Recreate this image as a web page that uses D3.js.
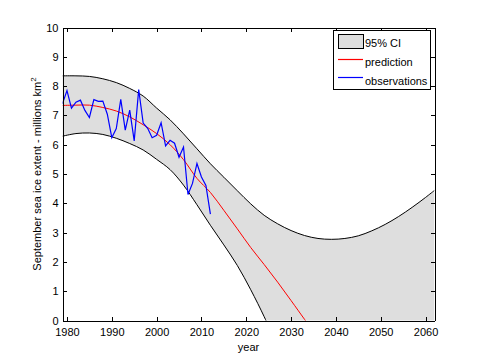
<!DOCTYPE html>
<html><head><meta charset="utf-8">
<script src="https://cdn.jsdelivr.net/npm/d3@7/dist/d3.min.js"></script>
<style>
body{margin:0;background:#fff;}
text{font-family:"Liberation Sans",Arial,sans-serif;font-size:11px;fill:#000;}
</style></head><body>
<svg id="c" width="480" height="360"></svg>
<script>
// ---- data ----
const obsYears = d3.range(1979, 2013);
const obsValues = [7.40,7.85,7.25,7.45,7.52,7.17,6.93,7.54,7.48,7.49,7.04,6.24,6.55,7.55,6.50,7.18,6.13,7.88,6.74,6.56,6.24,6.32,6.75,5.96,6.15,6.05,5.57,5.92,4.30,4.68,5.36,4.90,4.61,3.63];

const ciYears = [1979,1982,1985,1988,1991,1994,1997,2000,2003,2006,2009,2012,2015,2018,2021,2024,2027,2030,2033,2036,2039,2042,2045,2048,2051,2054,2057,2060,2062];
const ciUpper = [8.35,8.35,8.33,8.25,8.12,7.92,7.66,7.25,6.85,6.37,5.86,5.35,4.89,4.43,3.98,3.59,3.30,3.07,2.90,2.80,2.77,2.80,2.89,3.06,3.28,3.55,3.86,4.20,4.44];

const lowerYears = [1979,1982,1985,1988,1991,1994,1997,2000,2003,2006,2009,2012,2015,2018,2021,2024,2026];
const ciLower = [6.29,6.38,6.40,6.35,6.22,6.04,5.82,5.50,5.15,4.62,3.95,3.25,2.58,1.88,1.05,0.13,-0.55];

const predYears = [1979,1982,1985,1988,1991,1994,1997,2000,2003,2006,2009,2012,2015,2018,2021,2024,2027,2030,2033,2035];
const predValues = [7.34,7.35,7.35,7.27,7.15,6.95,6.68,6.38,6.00,5.49,4.85,4.37,3.76,3.13,2.49,1.91,1.31,0.68,0.04,-0.38];

const xTicks = [1980,1990,2000,2010,2020,2030,2040,2050,2060];
const yTicks = [0,1,2,3,4,5,6,7,8,9,10];
const legendLabels = ["95% CI","prediction","observations"];

// ---- layout ----
const L = 62.5, R = 434.5, T = 27.5, B = 320.5;
const svg = d3.select("#c");
const x = d3.scaleLinear().domain([1979, 2062]).range([L, R]);
const y = d3.scaleLinear().domain([0, 10]).range([B, T]);

svg.append("defs").append("clipPath").attr("id","clip")
  .append("rect").attr("x",L).attr("y",T).attr("width",R-L).attr("height",B-T);
const plot = svg.append("g").attr("clip-path","url(#clip)");

const line = d3.line().x(d=>x(d[0])).y(d=>y(d[1])).curve(d3.curveCatmullRom);
const upperPts = ciYears.map((t,i)=>[t,ciUpper[i]]);
const lowerPts = lowerYears.map((t,i)=>[t,ciLower[i]]);
const predPts = predYears.map((t,i)=>[t,predValues[i]]);
const obsPts = obsYears.map((t,i)=>[t,obsValues[i]]);

const upperPath = line(upperPts);
const lowerRev = line(lowerPts.slice().reverse());
const bandD = upperPath + "L" + x(2062) + "," + y(-1) + "L" + x(lowerYears[lowerYears.length-1]) + "," + y(-1)
  + "L" + lowerRev.slice(1) + "Z";
plot.append("path").attr("d", bandD).attr("fill","#dedede").attr("stroke","none");

plot.append("path").attr("d", upperPath).attr("fill","none").attr("stroke","#000").attr("stroke-width",1);
plot.append("path").attr("d", line(lowerPts)).attr("fill","none").attr("stroke","#000").attr("stroke-width",1);
plot.append("path").attr("d", line(predPts)).attr("fill","none").attr("stroke","#ff0000").attr("stroke-width",1);
plot.append("path").attr("d", d3.line().x(d=>x(d[0])).y(d=>y(d[1]))(obsPts))
  .attr("fill","none").attr("stroke","#0000ff").attr("stroke-width",1.2);

// ---- axes ----
svg.append("g").attr("transform",`translate(0,${B})`)
  .call(d3.axisBottom(x).tickValues(xTicks).tickFormat(d3.format("d")).tickSizeInner(-4).tickSizeOuter(0).tickPadding(8))
  .attr("font-size",null).attr("font-family",null);
svg.append("g").attr("transform",`translate(0,${T})`)
  .call(d3.axisTop(x).tickValues(xTicks).tickFormat("").tickSizeInner(-4).tickSizeOuter(0));
svg.append("g").attr("transform",`translate(${L},0)`)
  .call(d3.axisLeft(y).tickValues(yTicks).tickFormat(d3.format("d")).tickSizeInner(-4).tickSizeOuter(0).tickPadding(4))
  .attr("font-size",null).attr("font-family",null);
svg.append("g").attr("transform",`translate(${R},0)`)
  .call(d3.axisRight(y).tickValues(yTicks).tickFormat("").tickSizeInner(-4).tickSizeOuter(0));
svg.selectAll(".tick line").attr("stroke","#000").attr("shape-rendering","crispEdges");
svg.selectAll(".domain").attr("stroke","#000").attr("shape-rendering","crispEdges");

// axis labels
svg.append("text").attr("x", (L+R)/2).attr("y", 351).attr("text-anchor","middle").text("year");
const yl = svg.append("text").attr("transform",`translate(41,${(T+B)/2}) rotate(-90)`).attr("text-anchor","middle");
yl.append("tspan").text("September sea ice extent - millions km");
yl.append("tspan").attr("dy",-5).attr("font-size","8px").text("2");

// ---- legend ----
const lg = svg.append("g");
lg.append("rect").attr("x",333.5).attr("y",30.5).attr("width",97).attr("height",59).attr("fill","#fff").attr("stroke","#000").attr("shape-rendering","crispEdges");
lg.append("rect").attr("x",338.5).attr("y",34.5).attr("width",25).attr("height",14).attr("fill","#dedede").attr("stroke","#000").attr("shape-rendering","crispEdges");
lg.append("rect").attr("x",338).attr("y",58.9).attr("width",25).attr("height",1.2).attr("fill","#ff0000");
lg.append("rect").attr("x",338).attr("y",76.9).attr("width",25).attr("height",1.2).attr("fill","#0000ff");
const lgY = [46.5, 65.5, 84.5];
legendLabels.forEach((s,i)=>lg.append("text").attr("x",365).attr("y",lgY[i]).text(s));
</script>
</body></html>
